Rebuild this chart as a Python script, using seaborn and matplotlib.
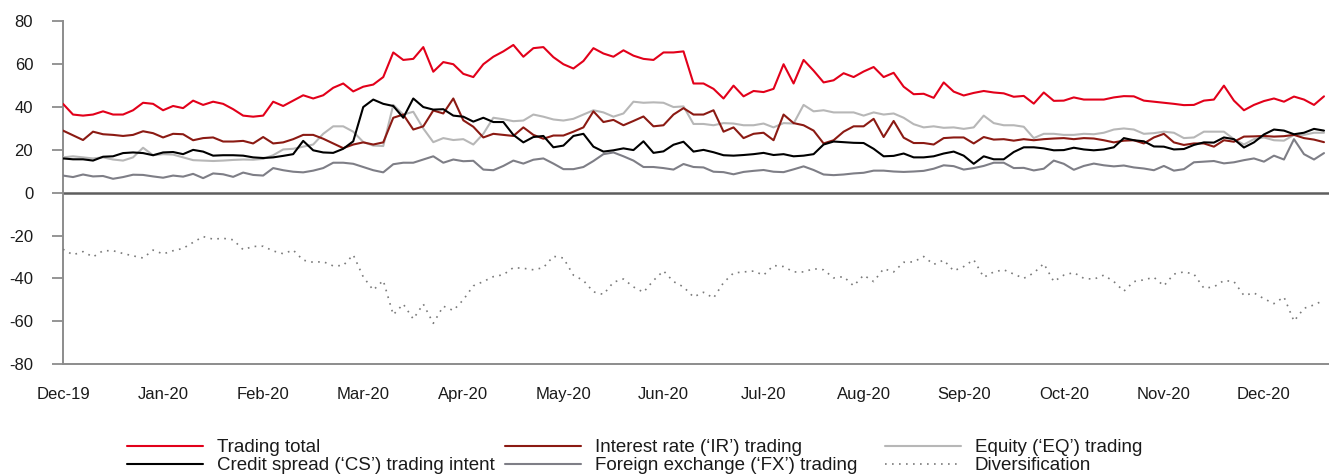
import numpy as np
import matplotlib
matplotlib.use("Agg")
import matplotlib.pyplot as plt
import seaborn as sns
from matplotlib.lines import Line2D

AXIS_GREY = "#8C8C8C"
TEXT = "#1A1A1A"

sns.set_theme(style="white", rc={
    "ytick.left": True,
    "ytick.major.size": 8,
    "ytick.major.width": 1.3,
    "ytick.major.pad": 13.5,
    "ytick.direction": "out",
    "xtick.bottom": False,
    "xtick.major.size": 0,
    "xtick.major.pad": 16.5,
    "axes.unicode_minus": False,
})
plt.rcParams["font.family"] = ["Liberation Sans", "DejaVu Sans"]

# ---- data: daily VaR by risk type (values every second trading day) ----
month_labels = ["Dec-19", "Jan-20", "Feb-20", "Mar-20", "Apr-20", "May-20", "Jun-20",
                "Jul-20", "Aug-20", "Sep-20", "Oct-20", "Nov-20", "Dec-20"]

trading_total = [
    41.5, 36.5, 36, 36.5, 38, 36.5, 36.5, 38.5, 42, 41.5,
    38.5, 40.5, 39.5, 43, 41, 42.5, 41.5, 39, 36, 35.5,
    36, 42.5, 40.5, 43, 45.5, 44, 45.5, 49, 51, 47.3,
    49.5, 50.5, 54, 65.5, 62, 62.5, 68, 56.5, 61, 60,
    55.5, 54, 60, 63.5, 66, 69, 63.5, 67.5, 68, 63.3,
    60, 58, 61.5, 67.5, 65, 63.5, 66.5, 64, 62.5, 62,
    65.5, 65.5, 66, 51, 51, 48.5, 44, 50, 45, 47.5,
    47, 48.5, 60, 51, 62, 57, 51.5, 52.5, 55.8, 54,
    56.6, 58.7, 54, 56, 49.5, 46, 46.2, 44.3, 51.5, 47.2,
    45.4, 46.6, 47.5, 46.8, 46.4, 44.8, 45.2, 41.6, 46.8, 42.9,
    43, 44.5, 43.5, 43.5, 43.5, 44.5, 45.1, 45, 43, 42.5,
    42, 41.5, 40.9, 41, 43, 43.5, 50, 43, 38.5, 41,
    42.8, 44, 42.5, 44.9, 43.5, 41, 45,
]

interest_rate = [
    29, 26.8, 24.6, 28.5, 27.3, 27, 26.5, 27, 28.7, 27.8,
    25.8, 27.5, 27.3, 24.5, 25.5, 25.8, 23.9, 23.9, 24.2, 23,
    26, 23, 23.5, 25, 27, 27, 25.2, 23, 20.8, 22.5,
    23.5, 22.5, 23.5, 35, 36.5, 29.5, 31, 38.4, 37, 44,
    33.8, 30.8, 25.8, 27.5, 27, 26.5, 30.5, 27, 25.2, 26.7,
    26.7, 28.5, 30.5, 38, 33, 34, 31.5, 33.5, 35.6, 31,
    31.5, 36.5, 39.5, 36.5, 36.5, 38.5, 28.5, 30.5, 25.5, 27.5,
    28, 24.5, 36.5, 32.5, 31.5, 29, 23, 24.5, 28.5, 31,
    31, 34.5, 26, 33.5, 25.7, 23.2, 23.2, 22.5, 25.5, 25.8,
    25.8, 23, 26, 24.8, 25, 24.3, 25, 24.5, 25, 25.3,
    25.5, 25, 25.5, 25.3, 24.5, 23.5, 24.3, 24.5, 23, 25.8,
    27.5, 23.5, 22.3, 23, 23, 21.5, 24.5, 23.8, 26.2, 26.3,
    26.5, 26.2, 26.4, 27, 25.5, 24.8, 23.6,
]

equity = [
    16.5, 17, 16.5, 16, 16.5, 15.5, 15, 16.5, 21, 17.5,
    18, 17.8, 16.5, 15.2, 15, 14.8, 15, 15.3, 15.5, 15.4,
    15.8, 17.5, 20.2, 20.5, 21.5, 22.5, 27.5, 31, 31, 28.5,
    23.7, 22, 21.8, 41, 36.5, 37.8, 30, 23.6, 25.5, 24.6,
    25, 22.5, 27.5, 35, 34.3, 33.4, 33.7, 36.5, 35.5, 34.2,
    33.7, 34.5, 36.5, 38.5, 37.5, 35.5, 37, 42.5, 42, 42.2,
    42, 40, 40.3, 32.1, 32.1, 31.5, 32.5, 32.3, 31.5, 31.5,
    32.3, 30.5, 32.5, 32.3, 41, 38, 38.5, 37.5, 37.5, 37.5,
    36, 37.5, 36.5, 37, 35, 32, 30.5, 31, 30.3, 30.5,
    29.8, 30.5, 36, 32.5, 31.5, 31.5, 30.8, 25.5, 27.5, 27.5,
    27, 27, 27.5, 27.3, 28, 29.5, 30, 29.5, 27.5, 27.8,
    28.5, 28, 25.5, 25.8, 28.5, 28.5, 28.5, 25, 22.5, 25,
    25.8, 24.5, 24.3, 27, 27, 28, 28,
]

credit_spread = [
    16, 15.6, 15.6, 15, 16.8, 17, 18.5, 18.8, 18.5, 17.5,
    18.8, 19, 18, 20, 19.2, 17.3, 17.5, 17.5, 17.3, 16.5,
    16.2, 16.5, 17.2, 18, 24.2, 19.8, 18.8, 18.6, 20.5, 24,
    40, 43.5, 41.5, 40.5, 35, 44, 40, 38.8, 39, 36,
    35.5, 33.2, 35, 33, 33, 27, 23.5, 26, 26.5, 21.2,
    22, 26.5, 27.5, 21.5, 19.2, 19.8, 20.7, 19.9, 24, 18.6,
    19.3, 22.4, 23.8, 19.2, 20, 18.9, 17.5, 17.3, 17.6, 18,
    18.6, 17.6, 18, 17, 17.3, 18, 22.5, 23.9, 23.6, 23.3,
    23.2, 20.5, 17, 17.2, 18.3, 16.5, 16.5, 17, 18.3, 19.2,
    17.3, 13.5, 17, 15.6, 15.6, 19, 21.2, 21.2, 20.7, 19.8,
    19.9, 21, 20.2, 19.8, 20.2, 21.2, 25.5, 24.5, 24, 21.6,
    21.5, 20.2, 20.4, 22.3, 23.5, 23.4, 25.8, 25, 21.1, 23.5,
    27.2, 29.5, 29, 27.3, 28, 29.8, 29,
]

foreign_exchange = [
    8, 7.3, 8.5, 7.6, 7.8, 6.5, 7.3, 8.4, 8.3, 7.6,
    7, 8, 7.5, 8.8, 6.8, 9, 8.6, 7.4, 9.4, 8.3,
    8, 11.5, 10.5, 9.8, 9.5, 10.3, 11.5, 14, 14, 13.5,
    12, 10.5, 9.5, 13.3, 14, 14, 15.5, 17, 14, 15.5,
    14.7, 14.9, 10.8, 10.5, 12.5, 15, 13.6, 15.4, 16, 13.6,
    11, 11, 12, 14.8, 18, 18.8, 17, 15, 12, 12,
    11.5, 10.8, 13.4, 12, 11.8, 9.8, 9.6, 8.6, 9.7, 10.2,
    10.6, 9.8, 9.6, 10.9, 12.3, 10.6, 8.5, 8.2, 8.5, 9,
    9.3, 10.3, 10.3, 9.9, 9.7, 9.9, 10.2, 11.2, 12.8, 12.4,
    10.8, 11.5, 12.5, 14, 14, 11.5, 11.6, 10.4, 11.2, 15,
    13.5, 10.7, 12.5, 13.6, 12.8, 12.3, 12.7, 11.8, 11.3, 10.5,
    12.5, 10.3, 11, 14.2, 14.5, 14.8, 13.7, 14.2, 15.2, 16,
    14.5, 17.3, 15.5, 25, 18, 15.5, 18.5,
]

diversification = [
    -26.4, -29, -27.5, -30, -27.1, -27.1, -28.4, -29.5, -30.5, -26.8,
    -28.6, -27.1, -26, -23.2, -20.5, -21.7, -21.3, -22, -26.6, -25.1,
    -25, -27.2, -28.5, -26.8, -31.5, -32.5, -32.2, -34.2, -34, -29,
    -39.3, -45.5, -41, -57, -52, -59, -52, -61, -53, -55,
    -50, -43.5, -41.5, -39.2, -38.3, -35, -35.3, -36, -35, -29.7,
    -30.5, -38.5, -41, -46.3, -47.5, -41.8, -40.3, -44, -46.5, -41,
    -36.5, -41.5, -44, -48.7, -46.5, -49.2, -42, -37.5, -37, -36.6,
    -38.5, -34, -34.5, -37, -37, -35.5, -36, -39.8, -39.2, -43.5,
    -38.5, -41.5, -35.5, -37, -32.5, -32.3, -29.8, -33.5, -31.5, -36.5,
    -34.5, -31.3, -39.5, -37, -36, -38, -40, -37.5, -33.1, -41.5,
    -38.5, -37.3, -40, -40.4, -38.5, -41.5, -46, -41.5, -40.7, -39.5,
    -43.5, -38, -37, -38, -44.6, -44, -41, -41.5, -48, -46.8,
    -49.5, -51.8, -48.7, -60, -54, -52.4, -50.2,
]

series_labels = [
    "Trading total",
    "Interest rate (\u2018IR\u2019) trading",
    "Equity (\u2018EQ\u2019) trading",
    "Credit spread (\u2018CS\u2019) trading intent",
    "Foreign exchange (\u2018FX\u2019) trading",
    "Diversification",
]

# ---- styling ----
RED = "#E2001A"
DARK_RED = "#8B1A13"
LIGHT_GREY = "#B7B7B7"
BLACK = "#000000"
MID_GREY = "#7E7E86"
DOT_GREY = "#7A7A7A"
DOTS = (0, (1, 3.2))

W, H = 1329, 475
fig = plt.figure(figsize=(W / 100, H / 100), dpi=100)
ax = fig.add_axes([63 / W, 1 - 364 / H, 1 - 63 / W, (364 - 21.4) / H])

x = np.arange(len(trading_total))

ax.axhline(0, color="#5E5E5E", lw=1.8, zorder=1)

plot_order = [
    (diversification, DOT_GREY, 1.2, DOTS),
    (foreign_exchange, MID_GREY, 1.5, "-"),
    (equity, LIGHT_GREY, 1.5, "-"),
    (interest_rate, DARK_RED, 1.5, "-"),
    (credit_spread, BLACK, 1.5, "-"),
    (trading_total, RED, 1.5, "-"),
]
for vals, col, lw, ls in plot_order:
    sns.lineplot(x=x, y=vals, ax=ax, color=col, lw=lw, linestyle=ls,
                 legend=False, zorder=3)

ax.set_xlim(0, 126.5)
ax.set_ylim(-80, 80)
ax.set_xticks(np.arange(0, len(x), 10))
ax.set_xticklabels(month_labels, fontsize=12, color=TEXT)
ax.set_yticks(np.arange(-80, 81, 20))
ax.set_yticklabels([str(v) for v in range(-80, 81, 20)], fontsize=12, color=TEXT)
ax.set_xlabel("")
ax.set_ylabel("")

sns.despine(ax=ax)
for side in ("left", "bottom"):
    ax.spines[side].set_color(AXIS_GREY)
    ax.spines[side].set_linewidth(1.4)
ax.yaxis.set_tick_params(which="major", left=True, length=8, width=1.3,
                         pad=13.5, direction="out", color=AXIS_GREY)
ax.xaxis.set_tick_params(which="major", bottom=False, length=0, pad=16.5)

# ---- legend: three columns of two entries ----
def handle(col, ls="-", lw=1.5):
    return Line2D([0], [0], color=col, lw=lw, linestyle=ls)

columns = [
    (127, [(handle(RED), series_labels[0]), (handle(BLACK), series_labels[3])]),
    (505, [(handle(DARK_RED), series_labels[1]), (handle(MID_GREY), series_labels[4])]),
    (885, [(handle(LIGHT_GREY), series_labels[2]), (handle(DOT_GREY, DOTS, 1.2), series_labels[5])]),
]
LEG_FS = 13.5
for xpix, entries in columns:
    fig.legend(handles=[e[0] for e in entries], labels=[e[1] for e in entries],
               loc="upper left", bbox_to_anchor=(xpix / W, 1 - 439 / H),
               bbox_transform=fig.transFigure, frameon=False, borderpad=0,
               borderaxespad=0, handlelength=76 / (LEG_FS * 100 / 72),
               handletextpad=14 / (LEG_FS * 100 / 72),
               labelspacing=0.05, fontsize=LEG_FS, labelcolor=TEXT)

fig.savefig("out.png", dpi=100)
